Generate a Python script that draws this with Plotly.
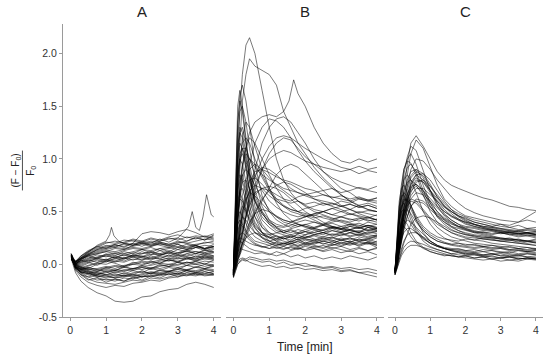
import plotly.graph_objects as go

# ---------------- Panel A ----------------
A_time = [0.03, 0.08, 0.15, 0.3, 0.5, 0.75, 1.0, 1.25, 1.5, 1.75, 2.0, 2.25, 2.5, 2.75, 3.0, 3.25, 3.5, 3.75, 4.0]
A_traces = [
    [.05, .0, -.08, -.16, -.22, -.27, -.30, -.35, -.36, -.35, -.31, -.30, -.26, -.24, -.23, -.19, -.17, -.19, -.22],
    [.06, .03, .0, .05, .10, .14, .16, .18, .17, .20, .29, .31, .30, .28, .31, .33, .30, .26, .24],
    [.07, .03, -.02, -.05, -.04, .0, .03, .05, .06, .08, .07, .09, .1, .08, .11, .12, .1, .13, .12],
    [.08, .02, -.05, -.1, -.12, -.1, -.08, -.06, -.07, -.04, -.03, -.05, -.02, .0, -.01, .02, .01, .03, .02],
    [.05, .04, .03, .08, .12, .16, .2, .22, .2, .23, .21, .24, .22, .25, .23, .26, .24, .27, .25],
    [.09, .05, .0, -.03, -.06, -.08, -.1, -.09, -.11, -.08, -.07, -.09, -.06, -.07, -.05, -.06, -.08, -.07, -.09],
    [.06, .02, -.04, -.08, -.1, -.13, -.15, -.14, -.16, -.13, -.12, -.1, -.11, -.09, -.1, -.08, -.09, -.1, -.1],
    [.1, .06, .03, .05, .08, .1, .12, .1, .13, .15, .14, .16, .13, .15, .17, .14, .16, .18, .17],
    [.05, .01, -.03, -.04, -.02, .01, .0, .03, .02, .05, .04, .06, .05, .03, .06, .05, .08, .06, .07],
    [.07, .04, .0, .02, .05, .07, .09, .11, .1, .12, .14, .13, .15, .16, .14, .17, .19, .2, .22],
    [.08, .03, -.03, -.07, -.09, -.11, -.12, -.1, -.11, -.12, -.1, -.08, -.09, -.07, -.04, -.05, -.03, -.04, -.02],
    [.06, .05, .02, .06, .1, .13, .15, .17, .19, .18, .2, .22, .21, .19, .22, .2, .18, .21, .2],
    [.09, .04, -.01, -.03, -.05, -.04, -.02, -.04, -.01, .0, .02, .0, .03, .04, .02, .05, .04, .06, .05],
    [.07, .02, -.06, -.12, -.17, -.2, -.22, -.2, -.21, -.18, -.17, -.15, -.16, -.13, -.12, -.1, -.11, -.09, -.1],
    [.06, .04, .01, .03, .06, .09, .07, .1, .08, .11, .1, .12, .09, .11, .1, .13, .12, .1, .12],
    [.08, .03, -.02, -.06, -.08, -.07, -.05, -.06, -.03, -.04, -.02, -.01, .01, .0, .02, .01, .03, .05, .04],
    [.1, .05, .02, .07, .12, .17, .21, .2, .23, .22, .2, .18, .21, .19, .2, .22, .25, .23, .28],
    [.05, .02, -.03, -.08, -.12, -.15, -.14, -.16, -.13, -.14, -.11, -.12, -.1, -.08, -.09, -.06, -.07, -.05, -.06],
    [.08, .04, .0, .0, .03, .05, .04, .07, .06, .09, .08, .06, .09, .11, .08, .1, .12, .11, .14],
    [.07, .03, -.01, -.02, -.05, -.06, -.04, -.02, -.03, .0, -.01, .02, .01, .04, .03, .06, .05, .08, .07],
    [.06, .03, .0, .04, .09, .12, .14, .16, .15, .17, .19, .17, .2, .18, .16, .19, .17, .15, .16],
    [.09, .04, -.02, -.09, -.14, -.17, -.18, -.19, -.17, -.15, -.16, -.13, -.14, -.12, -.1, -.11, -.08, -.09, -.07],
    [.06, .02, -.02, -.04, -.03, -.05, -.07, -.05, -.06, -.04, -.05, -.03, -.04, -.02, -.03, -.01, .0, -.02, .0],
    [.08, .05, .03, .06, .09, .11, .13, .12, .14, .16, .15, .17, .19, .18, .21, .2, .22, .24, .23],
    [.07, .02, -.03, -.05, -.07, -.09, -.06, -.08, -.05, -.06, -.03, -.04, -.01, -.02, .0, .02, .0, .01, -.01],
    [.05, .03, .01, .02, .04, .02, .05, .03, .06, .04, .07, .05, .08, .07, .09, .08, .1, .09, .11],
    [.08, .04, -.01, -.04, -.07, -.11, -.13, -.12, -.1, -.11, -.09, -.07, -.08, -.06, -.07, -.05, -.06, -.04, -.05],
    [.06, .03, .02, .05, .09, .14, .17, .19, .21, .24, .22, .25, .23, .26, .28, .25, .27, .26, .29],
    [.1, .05, -.01, -.03, -.01, .02, .04, .02, .05, .07, .06, .04, .07, .05, .08, .07, .05, .08, .06],
    [.07, .03, -.04, -.07, -.09, -.1, -.11, -.13, -.12, -.1, -.12, -.11, -.09, -.1, -.08, -.1, -.09, -.11, -.1],
    [.06, .04, .0, .01, .04, .06, .08, .06, .09, .07, .1, .12, .1, .13, .11, .14, .16, .15, .17],
    [.08, .03, -.02, -.05, -.03, -.05, -.03, -.01, -.02, .01, .03, .02, .04, .06, .05, .07, .06, .09, .08],
    [.07, .02, -.03, -.06, -.04, -.07, -.03, -.06, -.02, -.05, -.01, -.04, .0, -.02, .02, -.01, .03, .0, .04],
    [.09, .05, .01, .04, .02, .06, .04, .08, .05, .09, .07, .11, .08, .12, .09, .13, .1, .14, .11],
    [.06, .03, -.02, -.08, -.06, -.1, -.07, -.11, -.08, -.1, -.06, -.09, -.05, -.07, -.03, -.06, -.02, -.04, -.01],
    [.08, .04, .02, .08, .13, .17, .15, .19, .16, .2, .17, .21, .18, .16, .19, .15, .18, .14, .17],
    [.05, .02, -.04, -.1, -.15, -.13, -.17, -.14, -.16, -.12, -.15, -.11, -.13, -.09, -.12, -.08, -.1, -.07, -.09],
    [.1, .06, .02, .03, .07, .05, .09, .06, .1, .08, .12, .09, .13, .1, .14, .12, .16, .13, .15],
    [.07, .03, .0, -.01, .02, -.01, .03, .01, -.02, .02, .0, .03, .01, .05, .02, .06, .03, .07, .05],
    [.08, .04, .01, .06, .11, .15, .18, .16, .2, .18, .22, .2, .24, .21, .25, .22, .26, .23, .27],
    [.06, .02, -.03, -.07, -.09, -.08, -.1, -.07, -.09, -.06, -.08, -.04, -.06, -.03, -.05, -.01, -.03, .0, -.02],
    [.09, .04, .0, -.02, .01, .04, .02, .06, .03, .07, .04, .08, .05, .09, .06, .1, .07, .11, .08],
    [.07, .03, -.01, -.05, -.08, -.12, -.1, -.13, -.11, -.09, -.12, -.08, -.1, -.07, -.09, -.06, -.08, -.05, -.07],
    [.06, .04, .02, .05, .08, .06, .1, .08, .12, .1, .14, .11, .15, .12, .16, .14, .18, .15, .19],
]
A_spike_time = [0.03, 0.08, 0.15, 0.3, 0.5, 0.75, 1.0, 1.1, 1.15, 1.22, 1.35, 1.5, 1.75, 2.0, 2.25, 2.5, 2.75, 3.0, 3.25, 3.5, 3.75, 4.0]
A_spike_vals = [.08, .04, .02, .06, .12, .18, .22, .28, .35, .27, .22, .20, .19, .21, .18, .20, .17, .19, .16, .18, .15, .17]
A_peaks_time = [0.03, 0.08, 0.15, 0.3, 0.5, 0.75, 1.0, 1.25, 1.5, 1.75, 2.0, 2.25, 2.5, 2.75, 3.0, 3.15, 3.3, 3.4, 3.5, 3.6, 3.7, 3.8, 3.87, 3.93, 4.0]
A_peaks_vals = [.07, .03, .0, .04, .08, .1, .12, .15, .14, .18, .2, .19, .22, .24, .25, .3, .36, .50, .35, .32, .45, .66, .55, .47, .45]

# ---------------- Panel B ----------------
B_time = [0, 0.04, 0.08, 0.12, 0.18, 0.25, 0.35, 0.45, 0.6, 0.8, 1.0, 1.2, 1.4, 1.6, 1.8, 2.0, 2.25, 2.5, 2.75, 3.0, 3.25, 3.5, 3.75, 4.0]
B_traces = [
    [-.08, .2, .6, 1.0, 1.45, 1.8, 2.08, 2.15, 2.0, 1.65, 1.3, 1.0, .8, .68, .6, .55, .5, .47, .44, .41, .39, .37, .35, .34],
    [-.1, .1, .4, .8, 1.2, 1.55, 1.8, 1.95, 1.88, 1.84, 1.8, 1.7, 1.45, 1.3, 1.15, 1.05, .92, .82, .74, .66, .6, .56, .52, .5],
    [-.08, -.05, .0, .05, .12, .25, .45, .65, .9, 1.15, 1.3, 1.38, 1.4, 1.35, 1.25, 1.15, 1.0, .88, .8, .72, .68, .62, .6, .58],
    [-.07, -.03, .05, .15, .3, .5, .75, .95, 1.15, 1.3, 1.38, 1.36, 1.3, 1.2, 1.08, .98, .88, .8, .72, .66, .6, .55, .52, .5],
    [-.1, -.06, -.02, .05, .1, .2, .35, .5, .7, .9, 1.05, 1.15, 1.2, 1.18, 1.1, 1.02, .95, .88, .82, .78, .75, .72, .7, .68],
    [-.05, -.02, .05, .12, .2, .3, .45, .6, .75, .9, 1.0, 1.05, 1.08, 1.06, 1.02, .98, .95, .92, .9, .88, .9, .86, .89, .87],
    [-.08, .3, .8, 1.2, 1.45, 1.5, 1.35, 1.1, .8, .55, .42, .35, .3, .28, .25, .27, .24, .22, .25, .23, .21, .24, .22, .2],
    [-.1, .2, .6, .95, 1.15, 1.1, .9, .7, .5, .35, .28, .24, .22, .2, .22, .19, .21, .2, .18, .21, .19, .22, .2, .18],
    [-.05, .3, .7, 1.0, 1.25, 1.3, 1.15, .95, .7, .5, .38, .32, .3, .33, .3, .28, .32, .3, .34, .31, .33, .3, .35, .32],
    [-.09, .15, .45, .7, .85, .8, .65, .5, .38, .3, .25, .22, .2, .18, .17, .2, .18, .16, .19, .17, .2, .18, .21, .19],
    [-.12, .1, .35, .55, .7, .72, .6, .48, .35, .25, .2, .17, .15, .16, .14, .17, .15, .13, .16, .14, .12, .15, .13, .16],
    [-.06, .4, .9, 1.3, 1.6, 1.7, 1.55, 1.3, .95, .65, .5, .42, .38, .35, .38, .36, .34, .37, .35, .33, .36, .34, .37, .35],
    [-.07, .05, .2, .4, .6, .8, .95, 1.0, .95, .82, .7, .6, .55, .5, .48, .45, .47, .44, .42, .45, .43, .41, .44, .42],
    [-.09, .1, .3, .5, .7, .85, .9, .85, .75, .62, .52, .45, .4, .38, .36, .38, .35, .37, .34, .36, .33, .35, .32, .34],
    [-.04, .15, .45, .75, 1.0, 1.15, 1.2, 1.15, 1.0, .85, .72, .62, .56, .52, .5, .48, .46, .5, .47, .45, .48, .46, .44, .47],
    [-.08, .0, .1, .25, .45, .65, .8, .9, .95, .9, .82, .75, .7, .65, .6, .56, .52, .5, .53, .5, .47, .5, .48, .46],
    [-.1, .05, .25, .45, .65, .78, .8, .72, .6, .48, .4, .35, .32, .3, .33, .31, .34, .32, .35, .33, .36, .34, .37, .35],
    [-.06, -.03, .05, .15, .3, .45, .6, .7, .75, .72, .65, .6, .55, .52, .5, .53, .55, .58, .56, .6, .58, .62, .6, .63],
    [-.08, -.04, .02, .08, .18, .3, .45, .58, .68, .72, .7, .66, .62, .6, .64, .66, .68, .7, .72, .68, .7, .73, .71, .74],
    [-.05, .0, .1, .2, .35, .5, .62, .68, .65, .58, .5, .45, .42, .4, .43, .45, .48, .5, .47, .5, .52, .49, .51, .5],
    [-.07, .2, .55, .85, 1.05, 1.1, 1.0, .85, .65, .5, .42, .38, .36, .4, .42, .45, .48, .5, .53, .55, .52, .56, .58, .55],
    [-.1, .05, .15, .22, .25, .24, .22, .2, .18, .17, .15, .16, .14, .17, .15, .18, .2, .22, .2, .23, .25, .22, .24, .26],
    [-.08, .0, .08, .12, .15, .14, .13, .12, .1, .11, .09, .12, .1, .13, .15, .14, .17, .15, .18, .2, .18, .21, .19, .22],
    [-.12, -.08, -.05, .0, .02, .04, .03, .05, .04, .02, .03, .0, .02, -.01, .0, -.02, -.01, -.03, -.02, -.04, -.03, -.05, -.04, -.06],
    [-.1, -.06, -.02, .02, .05, .06, .05, .07, .06, .04, .05, .03, .04, .02, .0, .01, -.02, -.04, -.03, -.06, -.05, -.08, -.1, -.12],
    [-.09, .1, .3, .45, .5, .45, .38, .32, .26, .22, .2, .18, .2, .22, .24, .26, .28, .3, .32, .3, .33, .35, .32, .34],
    [-.11, .05, .2, .32, .38, .36, .3, .25, .2, .17, .15, .18, .2, .19, .22, .24, .23, .26, .25, .28, .3, .27, .3, .32],
    [-.07, .15, .4, .6, .68, .62, .5, .4, .3, .25, .22, .24, .26, .28, .3, .33, .35, .38, .4, .42, .4, .43, .45, .42],
    [-.1, .0, .1, .18, .22, .2, .17, .15, .13, .12, .1, .08, .1, .07, .09, .06, .08, .05, .07, .05, .08, .06, .04, .07],
    [-.06, -.04, .0, .05, .1, .18, .28, .38, .5, .62, .7, .75, .78, .76, .72, .68, .62, .58, .55, .52, .48, .45, .42, .4],
    [-.08, -.05, -.02, .03, .08, .15, .25, .35, .48, .6, .72, .85, .92, .95, .92, .86, .78, .7, .62, .56, .52, .48, .45, .42],
    [-.05, -.02, .04, .1, .2, .32, .45, .56, .66, .72, .74, .72, .68, .62, .56, .5, .45, .4, .36, .34, .32, .3, .28, .27],
    [-.09, .2, .5, .8, 1.0, 1.05, .95, .8, .62, .48, .4, .36, .35, .37, .4, .42, .4, .38, .42, .4, .37, .39, .36, .38],
    [-.1, .5, 1.1, 1.5, 1.65, 1.5, 1.2, .9, .6, .42, .35, .3, .28, .26, .28, .25, .27, .24, .26, .23, .25, .22, .24, .21],
    [-.08, .3, .75, 1.1, 1.3, 1.25, 1.05, .82, .6, .45, .38, .34, .3, .32, .29, .31, .28, .3, .27, .29, .26, .28, .25, .27],
    [-.11, .2, .55, .85, 1.0, .95, .78, .6, .45, .35, .3, .27, .25, .23, .26, .24, .22, .25, .23, .2, .22, .19, .21, .18],
    [-.07, .1, .35, .65, .95, 1.2, 1.35, 1.3, 1.12, .9, .72, .58, .48, .42, .38, .35, .33, .3, .28, .3, .27, .29, .26, .28],
    [-.06, .05, .2, .4, .65, .9, 1.1, 1.2, 1.15, 1.0, .85, .72, .62, .55, .5, .46, .42, .38, .36, .34, .32, .3, .33, .31],
    [-.05, .0, .06, .12, .22, .35, .5, .65, .82, 1.0, 1.12, 1.2, 1.22, 1.2, 1.15, 1.1, 1.05, 1.0, .96, .92, .9, .93, .9, .92],
    [-.06, .05, .25, .5, .75, .95, 1.05, 1.0, .92, .85, .8, .76, .72, .7, .68, .65, .62, .6, .58, .55, .57, .54, .56, .53],
    [-.08, -.04, .05, .15, .3, .48, .65, .78, .88, .9, .87, .83, .8, .78, .75, .72, .7, .66, .64, .62, .6, .63, .61, .6],
    [-.09, .0, .12, .25, .38, .45, .42, .36, .3, .26, .22, .2, .18, .2, .17, .19, .16, .18, .15, .17, .14, .16, .13, .15],
    [-.1, .1, .3, .5, .62, .6, .52, .44, .36, .3, .28, .3, .32, .34, .36, .38, .4, .37, .39, .36, .38, .35, .37, .34],
    [-.1, .08, .25, .38, .42, .38, .32, .27, .22, .2, .18, .21, .19, .22, .2, .23, .21, .24, .22, .25, .23, .26, .24, .27],
    [-.12, .0, .12, .22, .28, .3, .27, .23, .19, .16, .18, .15, .17, .14, .16, .13, .15, .12, .14, .11, .13, .1, .12, .09],
    [-.09, .05, .2, .35, .48, .55, .5, .42, .34, .28, .25, .27, .24, .26, .23, .25, .28, .26, .29, .27, .3, .28, .31, .29],
    [-.11, .1, .35, .6, .8, .85, .72, .55, .4, .3, .26, .22, .25, .21, .24, .2, .23, .19, .22, .18, .21, .17, .2, .16],
    [-.08, -.04, .02, .08, .14, .2, .25, .28, .3, .28, .26, .24, .27, .25, .29, .31, .3, .33, .36, .34, .38, .36, .4, .38],
    [-.1, .2, .6, 1.0, 1.25, 1.2, .95, .7, .45, .3, .22, .19, .17, .2, .18, .21, .19, .22, .2, .23, .21, .24, .22, .25],
    [-.07, .3, .9, 1.35, 1.55, 1.45, 1.15, .85, .55, .38, .3, .26, .24, .27, .25, .28, .3, .28, .32, .3, .33, .31, .35, .33],
    [-.13, -.08, -.04, .0, .03, .05, .04, .02, .0, -.02, -.01, -.03, -.02, -.04, -.03, -.05, -.04, -.06, -.05, -.07, -.06, -.08, -.07, -.09],
    [-.06, .0, .1, .22, .38, .55, .7, .8, .82, .76, .68, .62, .6, .58, .6, .57, .59, .56, .58, .55, .57, .54, .56, .53],
    [-.08, .1, .4, .7, .95, 1.1, 1.1, 1.0, .85, .7, .6, .54, .5, .47, .45, .47, .44, .46, .43, .45, .42, .44, .41, .43],
    [-.05, .0, .06, .14, .25, .4, .58, .72, .85, .92, .9, .85, .78, .72, .68, .66, .64, .66, .63, .65, .62, .64, .61, .63],
    [-.09, -.05, .0, .06, .12, .2, .3, .4, .48, .52, .5, .46, .42, .4, .38, .36, .34, .32, .35, .33, .3, .32, .29, .31],
]
B_late_time = [0, 0.05, 0.1, 0.15, 0.2, 0.3, 0.45, 0.6, 0.8, 1.0, 1.2, 1.4, 1.55, 1.68, 1.8, 2.0, 2.25, 2.5, 2.75, 3.0, 3.25, 3.5, 3.75, 4.0]
B_late_vals = [-.06, .1, .35, .6, .8, 1.05, 1.25, 1.35, 1.4, 1.42, 1.4, 1.45, 1.55, 1.75, 1.62, 1.5, 1.3, 1.15, 1.05, .98, .96, 1.0, .97, 1.0]

# ---------------- Panel C ----------------
C_time = [0, 0.04, 0.08, 0.12, 0.18, 0.25, 0.35, 0.45, 0.6, 0.8, 1.0, 1.2, 1.4, 1.6, 1.8, 2.0, 2.25, 2.5, 2.75, 3.0, 3.25, 3.5, 3.75, 4.0]
C_traces = [
    [-.06, .0, .1, .25, .45, .7, .95, 1.15, 1.22, 1.12, 1.0, .88, .8, .75, .72, .69, .66, .63, .61, .58, .55, .54, .52, .51],
    [-.08, -.02, .08, .2, .38, .6, .85, 1.05, 1.18, 1.1, .92, .75, .62, .55, .5, .46, .44, .42, .4, .38, .37, .4, .45, .5],
    [-.05, .05, .2, .4, .62, .85, 1.02, 1.12, 1.08, .9, .7, .55, .46, .4, .36, .33, .31, .3, .28, .3, .29, .27, .28, .26],
    [-.07, .1, .3, .5, .7, .9, 1.0, 1.05, .95, .75, .58, .45, .38, .33, .3, .28, .27, .25, .26, .24, .25, .23, .22, .24],
    [-.06, -.02, .05, .15, .3, .48, .65, .78, .85, .8, .7, .6, .52, .46, .42, .4, .37, .35, .33, .32, .3, .29, .3, .28],
    [-.05, .0, .08, .18, .32, .5, .66, .76, .82, .78, .68, .58, .5, .45, .42, .38, .36, .34, .32, .3, .28, .26, .27, .25],
    [-.08, -.04, .02, .1, .22, .38, .55, .68, .78, .8, .74, .66, .58, .52, .48, .45, .42, .4, .38, .36, .35, .33, .32, .31],
    [-.07, .05, .2, .38, .55, .7, .78, .8, .75, .65, .55, .47, .4, .35, .32, .3, .28, .27, .25, .24, .23, .22, .2, .21],
    [-.06, -.01, .06, .14, .25, .4, .55, .65, .72, .72, .66, .6, .54, .5, .46, .44, .4, .38, .36, .34, .32, .31, .3, .29],
    [-.08, .1, .3, .45, .55, .58, .52, .42, .32, .22, .17, .14, .12, .1, .11, .09, .1, .08, .09, .1, .08, .09, .07, .08],
    [-.1, .05, .2, .32, .4, .42, .38, .3, .22, .16, .12, .1, .09, .08, .07, .08, .06, .07, .05, .06, .07, .05, .06, .05],
    [-.06, .15, .4, .6, .72, .75, .68, .56, .42, .3, .22, .18, .16, .15, .14, .13, .12, .14, .13, .12, .11, .13, .12, .11],
    [-.09, .0, .1, .2, .3, .38, .42, .4, .35, .28, .22, .18, .15, .13, .12, .1, .11, .09, .1, .08, .09, .08, .1, .09],
    [-.05, .08, .25, .42, .55, .62, .6, .52, .42, .32, .26, .22, .2, .18, .17, .16, .15, .16, .14, .15, .13, .14, .12, .13],
    [-.07, .05, .2, .4, .6, .8, .92, .95, .88, .7, .55, .45, .4, .36, .34, .32, .3, .31, .29, .3, .28, .29, .27, .28],
    [-.06, .0, .08, .18, .3, .45, .6, .7, .74, .68, .58, .5, .44, .4, .36, .34, .31, .29, .27, .25, .24, .23, .22, .21],
    [-.08, -.05, .0, .06, .12, .2, .3, .38, .44, .46, .44, .4, .36, .32, .3, .28, .26, .24, .23, .22, .21, .2, .19, .18],
    [-.1, -.06, -.02, .03, .08, .12, .16, .18, .18, .16, .14, .12, .1, .08, .07, .06, .05, .04, .05, .03, .04, .03, .05, .04],
    [-.07, .02, .12, .25, .38, .5, .58, .62, .6, .52, .44, .38, .34, .3, .28, .26, .25, .24, .23, .22, .21, .2, .19, .18],
    [-.05, .1, .32, .55, .75, .9, .98, .96, .85, .66, .5, .4, .34, .3, .27, .25, .23, .22, .2, .19, .18, .17, .16, .15],
    [-.06, .0, .08, .2, .35, .55, .75, .9, 1.0, .98, .9, .8, .72, .64, .58, .53, .49, .46, .44, .42, .41, .4, .42, .4],
    [-.08, -.03, .04, .12, .22, .34, .46, .55, .6, .58, .52, .46, .42, .38, .36, .35, .34, .32, .33, .31, .3, .32, .3, .31],
    [-.07, .05, .18, .3, .42, .5, .52, .48, .4, .32, .26, .22, .2, .19, .2, .18, .19, .17, .18, .16, .17, .15, .16, .14],
    [-.09, -.04, .03, .1, .2, .32, .45, .55, .62, .6, .54, .48, .43, .39, .35, .33, .3, .28, .26, .25, .24, .23, .22, .21],
    [-.06, .08, .28, .5, .68, .8, .85, .8, .68, .5, .38, .3, .25, .22, .2, .19, .18, .17, .16, .15, .14, .13, .12, .13],
    [-.08, .0, .08, .16, .24, .3, .34, .34, .3, .25, .2, .17, .15, .13, .12, .11, .1, .09, .1, .08, .07, .08, .07, .06],
    [-.07, -.02, .05, .14, .26, .42, .6, .75, .85, .86, .8, .7, .6, .52, .46, .42, .38, .35, .34, .32, .31, .3, .29, .3],
    [-.05, .02, .12, .24, .38, .54, .7, .82, .88, .84, .74, .64, .56, .5, .45, .41, .38, .36, .35, .33, .32, .31, .33, .32],
    [-.1, -.05, .02, .08, .15, .22, .28, .3, .3, .26, .22, .18, .15, .13, .11, .1, .09, .08, .07, .06, .07, .06, .05, .06],
    [-.06, .05, .2, .38, .52, .6, .62, .56, .46, .36, .3, .26, .24, .23, .22, .24, .23, .25, .24, .22, .23, .21, .22, .2],
    [-.07, .12, .35, .55, .65, .66, .58, .46, .34, .25, .2, .17, .15, .14, .13, .12, .11, .12, .1, .11, .1, .09, .1, .09],
    [-.08, -.03, .05, .15, .28, .44, .6, .72, .8, .78, .7, .62, .55, .5, .46, .43, .4, .38, .36, .38, .35, .37, .34, .35],
    [-.09, .05, .18, .28, .35, .36, .32, .26, .2, .15, .12, .1, .08, .09, .07, .08, .06, .07, .05, .06, .04, .05, .06, .05],
    [-.06, .02, .15, .3, .48, .65, .8, .88, .9, .82, .7, .58, .48, .42, .38, .34, .32, .3, .31, .29, .3, .28, .29, .27],
    [-.07, -.02, .06, .16, .3, .46, .62, .72, .76, .7, .6, .5, .42, .36, .32, .29, .27, .26, .25, .24, .23, .24, .22, .23],
    [-.08, .08, .25, .4, .5, .52, .46, .38, .3, .24, .2, .17, .15, .14, .15, .13, .14, .12, .13, .11, .12, .1, .11, .1],
    [-.05, .0, .1, .22, .36, .52, .66, .74, .76, .7, .62, .55, .5, .46, .43, .4, .38, .36, .35, .34, .33, .32, .34, .33],
    [-.1, -.06, -.01, .05, .1, .16, .2, .22, .21, .19, .16, .14, .12, .1, .09, .08, .09, .07, .08, .06, .07, .05, .06, .05],
    [-.06, .1, .3, .5, .62, .68, .64, .55, .44, .34, .28, .24, .21, .19, .18, .17, .16, .17, .15, .16, .14, .15, .13, .14],
    [-.07, -.03, .04, .12, .24, .38, .52, .62, .68, .66, .6, .53, .47, .42, .38, .36, .35, .33, .32, .3, .31, .29, .3, .28],
    [-.08, .0, .1, .2, .32, .45, .55, .6, .58, .5, .42, .35, .3, .26, .24, .22, .2, .19, .18, .17, .16, .15, .14, .15],
    [-.06, .04, .14, .28, .44, .6, .74, .84, .9, .86, .76, .64, .55, .48, .43, .39, .36, .34, .33, .31, .3, .29, .3, .28],
]

# ---------------- Axis labels ----------------
panel_titles = ["A", "B", "C"]
x_ticks = [0, 1, 2, 3, 4]
y_ticks = [-0.5, 0.0, 0.5, 1.0, 1.5, 2.0]
y_tick_text = ["-0.5", "0.0", "0.5", "1.0", "1.5", "2.0"]
x_title = "Time [min]"

LINE = dict(color="rgba(0,0,0,0.7)", width=0.75)
FONT = "Liberation Sans, Arial, Helvetica, sans-serif"

fig = go.Figure()

def add(t, v, xa):
    fig.add_trace(go.Scatter(x=t, y=v, mode="lines", line=LINE, xaxis=xa, yaxis="y",
                             showlegend=False, hoverinfo="skip"))

for tr in A_traces:
    add(A_time, tr, "x")
add(A_spike_time, A_spike_vals, "x")
add(A_peaks_time, A_peaks_vals, "x")
for tr in B_traces:
    add(B_time, tr, "x2")
add(B_late_time, B_late_vals, "x2")
for tr in C_traces:
    add(C_time, tr, "x3")

axis_col = "#9a9a9a"
xcommon = dict(range=[-0.2, 4.2], tickvals=x_ticks, showline=True, linecolor=axis_col, linewidth=1,
               ticks="outside", ticklen=3, tickcolor=axis_col, showgrid=False, zeroline=False,
               tickfont=dict(size=10.5, color="#333", family=FONT), anchor="y", fixedrange=True)

fig.update_layout(
    width=550, height=362,
    margin=dict(l=63, r=7, t=24, b=45),
    paper_bgcolor="white", plot_bgcolor="white",
    xaxis=dict(domain=[0.0, 0.329], **xcommon),
    xaxis2=dict(domain=[0.340, 0.669], **xcommon),
    xaxis3=dict(domain=[0.677, 1.0], **xcommon),
    yaxis=dict(range=[-0.5, 2.28], tickvals=y_ticks, ticktext=y_tick_text, showline=True,
               linecolor=axis_col, linewidth=1, ticks="outside", ticklen=3, tickcolor=axis_col,
               showgrid=False, zeroline=False, anchor="x", fixedrange=True,
               tickfont=dict(size=10.5, color="#333", family=FONT)),
    font=dict(family=FONT, color="#222"),
)

centers = [0.1645, 0.5045, 0.8385]
for c, name in zip(centers, panel_titles):
    fig.add_annotation(x=c, y=1.041, xref="paper", yref="paper", text=name, showarrow=False,
                       font=dict(size=15, color="#222", family=FONT), xanchor="center", yanchor="middle")

fig.add_annotation(x=0.504, y=-0.102, xref="paper", yref="paper", text=x_title, showarrow=False,
                   font=dict(size=12, color="#222", family=FONT), xanchor="center", yanchor="middle")

# fraction label (F - F0)/F0, rotated
fig.add_annotation(x=-0.100, y=0.50, xref="paper", yref="paper", text="(F \u2212 F<sub>0</sub>)",
                   textangle=-90, showarrow=False, font=dict(size=10, color="#222", family=FONT),
                   xanchor="center", yanchor="middle")
fig.add_annotation(x=-0.068, y=0.50, xref="paper", yref="paper", text="F<sub>0</sub>",
                   textangle=-90, showarrow=False, font=dict(size=10, color="#222", family=FONT),
                   xanchor="center", yanchor="middle")
fig.add_shape(type="line", xref="paper", yref="paper", x0=-0.0845, x1=-0.0845, y0=0.432, y1=0.568,
              line=dict(color="#222", width=0.8))

fig.write_html("out.html", config={"displayModeBar": False},
               post_script="document.body.style.margin='0';document.body.style.padding='0';")
